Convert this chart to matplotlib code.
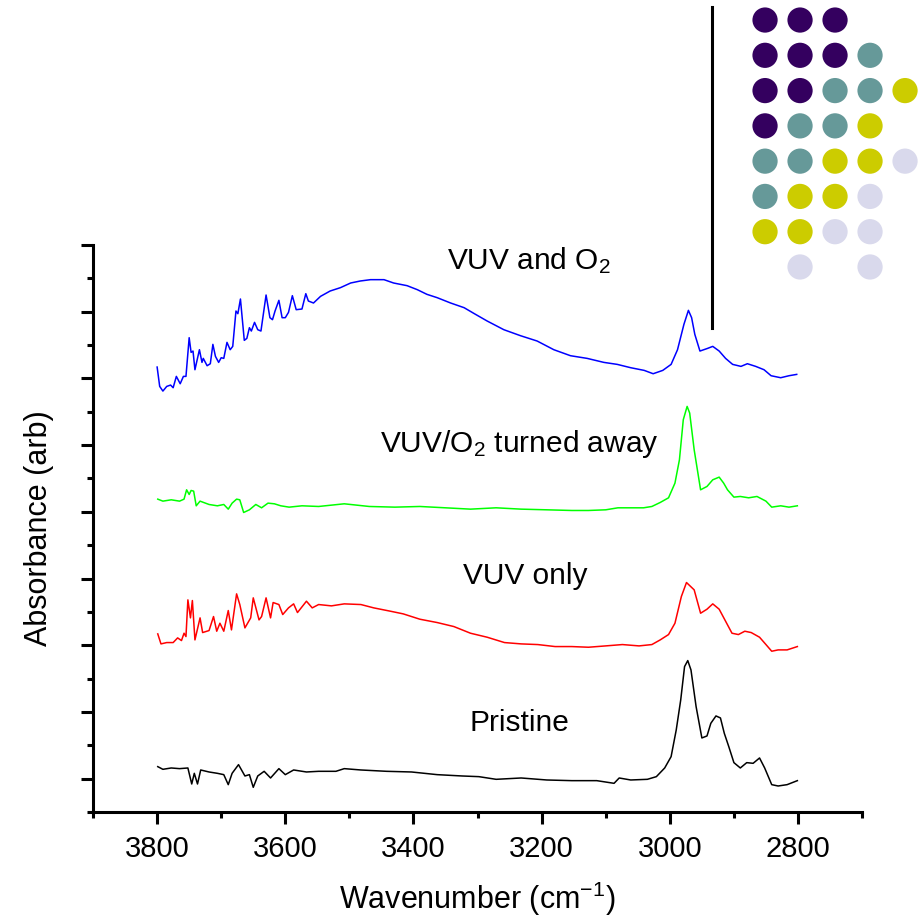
import matplotlib
matplotlib.use("Agg")
import matplotlib.pyplot as plt
from matplotlib.ticker import MultipleLocator, FixedLocator

plt.rcParams['font.family'] = ['Liberation Sans', 'DejaVu Sans']
plt.rcParams['mathtext.fontset'] = 'custom'
plt.rcParams['mathtext.rm'] = 'Liberation Sans'
plt.rcParams['mathtext.it'] = 'Liberation Sans'

# ---------------- data ----------------
blue_wn = [3800, 3796, 3791, 3785, 3779, 3775, 3770, 3764, 3759, 3755, 3750, 3747, 3744, 3741,
           3734, 3730, 3728, 3722, 3717, 3713, 3709, 3704, 3700, 3696, 3691, 3686, 3682, 3677,
           3674, 3670, 3664, 3660, 3656, 3653, 3648, 3643, 3638, 3630, 3624, 3620, 3616, 3610,
           3605, 3600, 3595, 3589, 3583, 3574, 3568, 3564, 3556, 3545, 3530, 3514, 3498, 3483,
           3467, 3446, 3431, 3410, 3394, 3379, 3363, 3342, 3321, 3305, 3285, 3259, 3233, 3207,
           3181, 3155, 3129, 3103, 3082, 3061, 3040, 3026, 3011, 2998, 2988, 2978, 2971, 2966,
           2961, 2953, 2941, 2933, 2923, 2913, 2902, 2889, 2879, 2866, 2853, 2842, 2827, 2814, 2802]
blue_abs = [6.17, 5.88, 5.81, 5.88, 5.90, 5.86, 6.03, 5.92, 6.03, 6.03, 6.61, 6.39, 6.41, 6.13,
            6.43, 6.24, 6.30, 6.19, 6.22, 6.51, 6.33, 6.24, 6.31, 6.30, 6.54, 6.43, 6.48, 7.01,
            6.97, 7.19, 6.57, 6.60, 6.76, 6.71, 6.84, 6.73, 6.71, 7.25, 6.91, 6.88, 7.01, 7.17,
            6.91, 6.91, 6.99, 7.24, 7.03, 7.04, 7.27, 7.16, 7.13, 7.23, 7.31, 7.36, 7.43, 7.46,
            7.48, 7.48, 7.43, 7.39, 7.33, 7.26, 7.21, 7.13, 7.06, 6.97, 6.86, 6.73, 6.64, 6.56,
            6.43, 6.34, 6.30, 6.24, 6.21, 6.16, 6.12, 6.07, 6.12, 6.21, 6.43, 6.81, 7.02, 6.91,
            6.66, 6.41, 6.45, 6.48, 6.41, 6.30, 6.21, 6.18, 6.22, 6.18, 6.13, 6.04, 6.01, 6.04, 6.06]

green_wn = [3799, 3791, 3778, 3765, 3758, 3754, 3750, 3747, 3743, 3739, 3733, 3719, 3706, 3696,
            3689, 3683, 3676, 3671, 3665, 3656, 3646, 3637, 3627, 3617, 3607, 3594, 3574, 3548,
            3508, 3469, 3429, 3390, 3350, 3311, 3271, 3232, 3192, 3153, 3127, 3100, 3081, 3061,
            3041, 3028, 3015, 3002, 2992, 2985, 2979, 2973, 2969, 2962, 2952, 2942, 2933, 2923,
            2916, 2910, 2900, 2890, 2877, 2864, 2850, 2841, 2827, 2814, 2801]
green_abs = [4.19, 4.16, 4.18, 4.16, 4.19, 4.33, 4.26, 4.32, 4.31, 4.09, 4.16, 4.11, 4.09, 4.11,
             4.04, 4.13, 4.19, 4.18, 3.99, 4.03, 4.11, 4.06, 4.13, 4.12, 4.09, 4.07, 4.09, 4.08,
             4.12, 4.08, 4.07, 4.08, 4.06, 4.04, 4.06, 4.04, 4.03, 4.02, 4.02, 4.03, 4.06, 4.06,
             4.06, 4.08, 4.14, 4.21, 4.43, 4.78, 5.38, 5.58, 5.48, 4.93, 4.33, 4.38, 4.48, 4.52,
             4.43, 4.33, 4.22, 4.23, 4.21, 4.23, 4.16, 4.07, 4.09, 4.07, 4.09]

red_wn = [3799, 3794, 3785, 3775, 3768, 3762, 3758, 3755, 3752, 3748, 3745, 3741, 3733, 3729,
          3719, 3712, 3707, 3702, 3696, 3689, 3684, 3676, 3671, 3663, 3654, 3650, 3641, 3637,
          3630, 3623, 3619, 3610, 3604, 3595, 3587, 3581, 3567, 3558, 3548, 3528, 3508, 3482,
          3462, 3436, 3416, 3390, 3363, 3337, 3311, 3285, 3258, 3232, 3206, 3179, 3153, 3127,
          3100, 3074, 3048, 3028, 3015, 3002, 2992, 2982, 2974, 2962, 2952, 2942, 2933, 2923,
          2913, 2903, 2893, 2883, 2873, 2860, 2850, 2841, 2831, 2817, 2801]
red_abs = [2.17, 2.02, 2.04, 2.04, 2.11, 2.07, 2.18, 2.13, 2.68, 2.41, 2.67, 2.08, 2.41, 2.19,
           2.22, 2.43, 2.21, 2.33, 2.21, 2.52, 2.23, 2.77, 2.61, 2.26, 2.41, 2.71, 2.38, 2.43,
           2.71, 2.41, 2.64, 2.61, 2.46, 2.56, 2.62, 2.49, 2.66, 2.56, 2.61, 2.59, 2.62, 2.61,
           2.56, 2.51, 2.47, 2.39, 2.34, 2.28, 2.18, 2.12, 2.04, 2.02, 2.01, 1.98, 1.98, 1.97,
           1.99, 2.01, 1.99, 2.01, 2.08, 2.16, 2.33, 2.73, 2.94, 2.83, 2.48, 2.54, 2.62, 2.54,
           2.36, 2.18, 2.16, 2.21, 2.19, 2.12, 2.01, 1.91, 1.93, 1.93, 1.98]

black_wn = [3799, 3791, 3778, 3765, 3752, 3746, 3742, 3737, 3732, 3719, 3706, 3696, 3689, 3683,
            3673, 3663, 3656, 3650, 3643, 3633, 3623, 3610, 3600, 3587, 3567, 3548, 3521, 3508,
            3482, 3442, 3403, 3363, 3324, 3298, 3271, 3232, 3192, 3153, 3114, 3087, 3079, 3061,
            3035, 3021, 3008, 2998, 2990, 2983, 2977, 2972, 2967, 2959, 2950, 2942, 2936, 2928,
            2921, 2915, 2908, 2900, 2890, 2880, 2870, 2860, 2852, 2841, 2831, 2817, 2801]
black_abs = [0.18, 0.14, 0.16, 0.15, 0.16, -0.08, 0.08, -0.08, 0.13, 0.10, 0.08, 0.06, -0.09, 0.08,
             0.21, 0.04, 0.06, -0.13, 0.04, 0.11, 0.01, 0.15, 0.06, 0.13, 0.10, 0.11, 0.11, 0.15,
             0.13, 0.11, 0.10, 0.06, 0.04, 0.03, -0.01, 0.01, -0.02, -0.03, -0.03, -0.07, 0.01, -0.02,
             -0.01, 0.03, 0.16, 0.33, 0.73, 1.18, 1.68, 1.77, 1.63, 1.08, 0.61, 0.64, 0.83, 0.94,
             0.91, 0.68, 0.48, 0.24, 0.16, 0.24, 0.23, 0.31, 0.16, -0.09, -0.11, -0.09, -0.03]

labels = ["VUV and O$_2$", "VUV/O$_2$ turned away", "VUV only", "Pristine"]
label_wn = [3347, 3452, 3323, 3313]
label_y = [7.63, 4.89, 2.92, 0.71]

x_major = [3800, 3600, 3400, 3200, 3000, 2800]

# dot matrix decoration (rows top to bottom), 0 = empty
dot_grid = [
    [1, 1, 1, 0, 0],
    [1, 1, 1, 2, 0],
    [1, 1, 2, 2, 3],
    [1, 2, 2, 3, 0],
    [2, 2, 3, 3, 4],
    [2, 3, 3, 4, 0],
    [3, 3, 4, 4, 0],
    [0, 4, 0, 4, 0],
]
dot_colors = {1: '#34005f', 2: '#669999', 3: '#cccc00', 4: '#d9d9ec'}

# ---------------- figure ----------------
fig = plt.figure(figsize=(9.23, 9.22), dpi=100)
ax = fig.add_axes([0.1008, 0.1193, 0.8332, 0.6150])

lw = 1.1
ax.plot(blue_wn, blue_abs, color='#0000ff', lw=lw)
ax.plot(green_wn, green_abs, color='#00ff00', lw=lw)
ax.plot(red_wn, red_abs, color='#ff0000', lw=lw)
ax.plot(black_wn, black_abs, color='black', lw=lw)

for t, xw, yv in zip(labels, label_wn, label_y):
    ax.text(xw, yv, t, fontsize=21.5, ha='left', va='baseline', color='black')

ax.set_xlim(3900, 2700)
ax.set_ylim(-0.5, 8)
ax.xaxis.set_major_locator(FixedLocator(x_major))
ax.xaxis.set_minor_locator(MultipleLocator(100))
ax.yaxis.set_major_locator(MultipleLocator(1))
ax.yaxis.set_minor_locator(MultipleLocator(0.5))
ax.set_yticklabels([])
ax.tick_params(axis='both', which='major', direction='out', length=8.6, width=2.2,
               labelsize=21)
ax.tick_params(axis='both', which='minor', direction='out', length=4.6, width=2.2)
ax.tick_params(axis='x', pad=8)
for s in ['top', 'right']:
    ax.spines[s].set_visible(False)
for s in ['left', 'bottom']:
    ax.spines[s].set_linewidth(2.2)

ax.set_xlabel("Wavenumber (cm$^{-1}$)", fontsize=22, labelpad=12)
ax.set_ylabel("Absorbance (arb)", fontsize=22, labelpad=16)

# vertical marker line
ax.plot([2934, 2934], [6.76, 11.56], color='black', lw=2.2, clip_on=False)

# dot matrix inset
ax2 = fig.add_axes([0.8099, 0.6913, 0.1896, 0.3061])
for r, row in enumerate(dot_grid):
    for c, v in enumerate(row):
        if v:
            ax2.scatter([c], [r], s=330, color=dot_colors[v], edgecolors='none')
ax2.set_xlim(-0.5, 4.5)
ax2.set_ylim(7.5, -0.5)
ax2.axis('off')

fig.savefig('out.png', dpi=100)
